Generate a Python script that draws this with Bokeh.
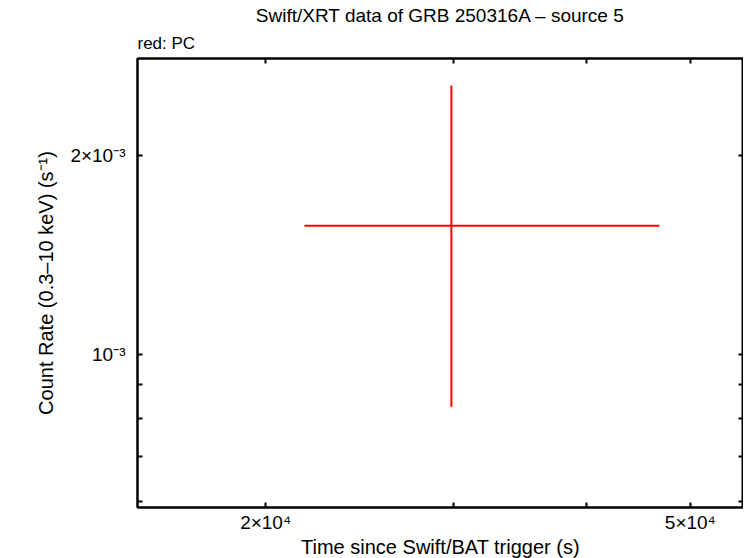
from bokeh.plotting import figure
from bokeh.models import LogAxis, FixedTicker, CustomJSTickFormatter, Range1d, Title
from bokeh.embed import file_html
from bokeh.resources import INLINE

# data
time_s = [29860.0]
time_lo = [21750.0]
time_hi = [46770.0]
rate = [1.566e-3]
rate_lo = [8.34e-4]
rate_hi = [2.553e-3]

x_ticks = [2e4, 3e4, 4e4, 5e4]
x_labels = ["2×10⁴", "", "", "5×10⁴"]
y_ticks = [1e-3, 2e-3]
y_labels = ["10⁻³", "2×10⁻³"]
y_minor = [6e-4, 7e-4, 8e-4, 9e-4]

FONT = "Liberation Sans"

p = figure(x_axis_type="log", y_axis_type="log",
           x_range=Range1d(1.517e4, 5.608e4), y_range=Range1d(5.87e-4, 2.805e-3),
           frame_width=606, frame_height=449,
           min_border_left=137, min_border_right=0, min_border_top=58, min_border_bottom=10,
           output_backend="svg", toolbar_location=None,
           background_fill_color="white", border_fill_color="white")
p.grid.visible = False
p.outline_line_color = "black"
p.outline_line_width = 2

xa = p.below[0]
ya = p.left[0]


def fmt(labels):
    return CustomJSTickFormatter(args=dict(labels=labels), code="return labels[index];")


def style(ax):
    ax.axis_line_width = 2
    ax.major_tick_in = 5
    ax.major_tick_out = 0
    ax.minor_tick_in = 5
    ax.minor_tick_out = 0
    ax.major_tick_line_width = 2
    ax.minor_tick_line_width = 2
    ax.major_label_text_font = FONT
    ax.major_label_text_font_size = "19px"
    ax.major_label_text_color = "black"
    ax.axis_label_text_font = FONT
    ax.axis_label_text_font_size = "20px"
    ax.axis_label_text_font_style = "normal"
    ax.axis_label_text_color = "black"


# mirrored tick-only axes (added first so they sit next to the frame)
for loc, ticks, minor in (("above", x_ticks, []), ("right", y_ticks, y_minor)):
    ax = LogAxis(ticker=FixedTicker(ticks=ticks, minor_ticks=minor),
                 formatter=fmt([""] * len(ticks)))
    style(ax)
    ax.major_label_standoff = 0
    p.add_layout(ax, loc)

p.title = Title(text="Swift/XRT data of GRB 250316A \u2013 source 5", align="center",
                text_font=FONT, text_font_size="19px", text_font_style="normal",
                text_color="black", standoff=0)
p.add_layout(Title(text="red: PC", align="left", text_font=FONT, text_font_size="17px",
                   text_font_style="normal", text_color="black", standoff=12), "above")

xa.ticker = FixedTicker(ticks=x_ticks, minor_ticks=[])
xa.formatter = fmt(x_labels)
xa.axis_label = "Time since Swift/BAT trigger (s)"
style(xa)
xa.major_label_standoff = 4
xa.axis_label_standoff = 0

ya.ticker = FixedTicker(ticks=y_ticks, minor_ticks=y_minor)
ya.formatter = fmt(y_labels)
ya.axis_label = "Count Rate (0.3\u201310 keV) (s\u207b\u00b9)"
style(ya)
ya.major_label_standoff = 12
ya.axis_label_standoff = 10

# error bars
p.segment(x0=time_lo, y0=rate, x1=time_hi, y1=rate, line_color="#ff0000", line_width=2)
p.segment(x0=time_s, y0=rate_lo, x1=time_s, y1=rate_hi, line_color="#ff0000", line_width=2)

open("out.html", "w").write(file_html(p, INLINE))
